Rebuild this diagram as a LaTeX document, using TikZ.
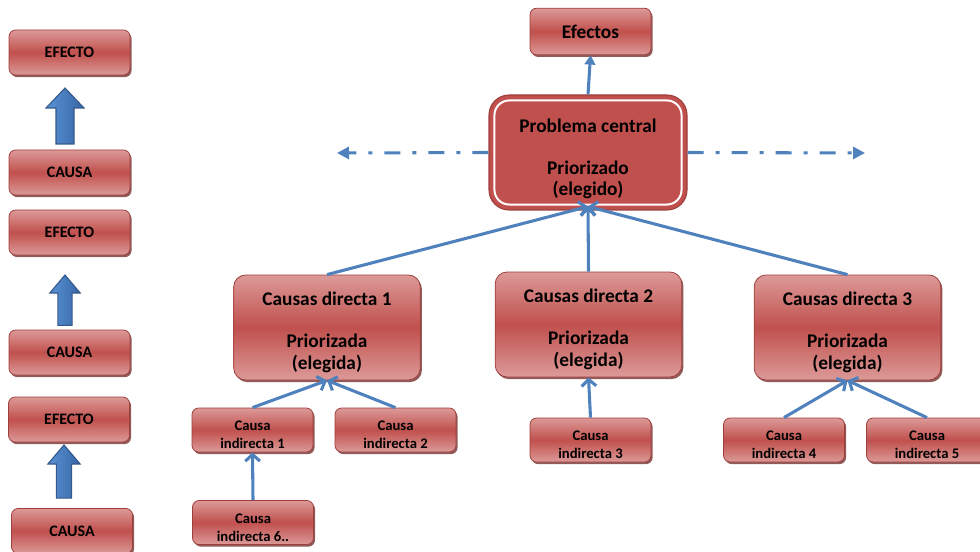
\documentclass[tikz,border=0pt]{standalone}
\usepackage{fontspec}
\setmainfont{Carlito}
\usetikzlibrary{arrows.meta,shadows}
\definecolor{boxred}{HTML}{C0504D}
\definecolor{boxlight}{HTML}{DC9A98}
\definecolor{boxborder}{HTML}{9E3F3C}
\definecolor{boxshadow}{HTML}{6A2624}
\definecolor{lineblue}{HTML}{4F81BD}
\definecolor{bigbluel}{HTML}{5A92D4}
\definecolor{bigbluer}{HTML}{3566A6}
\definecolor{bigblueedge}{HTML}{35588A}
\newcommand\bigtop{\rule{0pt}{17.5pt}}
\newcommand\smalltop{\rule{0pt}{15pt}}
\begin{document}
\begin{tikzpicture}[x=0.75pt,y=-0.75pt,
  redbox/.style={draw=boxborder, line width=0.6pt, rounded corners=5pt,
    top color=boxlight, bottom color=boxlight, middle color=boxred,
    drop shadow={shadow xshift=1.2pt, shadow yshift=-1.6pt, fill=boxshadow, opacity=0.75},
    font=\bfseries, align=center, inner sep=0pt, text=black},
  leftbox/.style={redbox, minimum width=90.75pt, minimum height=33.75pt, font=\bfseries\fontsize{12}{14}\selectfont},
  smallbox/.style={redbox, minimum width=90.75pt, minimum height=33pt, font=\bfseries\fontsize{11}{13.5}\selectfont},
  bigbox/.style={redbox, rounded corners=9pt, minimum width=140pt, minimum height=78.75pt, font=\bfseries\fontsize{14.5}{16}\selectfont},
  link/.style={draw=lineblue, line width=2.3pt, -{Straight Barb[length=5pt,width=11pt]}},
  toplink/.style={draw=lineblue, line width=2.3pt, -{Triangle[length=7pt,width=8pt]}},
  dashlink/.style={draw=lineblue, line width=2.3pt, dash pattern=on 12pt off 9pt on 3pt off 9pt, -{Triangle[length=9pt,width=9pt]}},
  bigarrow/.style={left color=bigbluel, right color=bigbluer, draw=bigblueedge, line width=0.8pt},
  uparr/.pic={\draw[bigarrow] (0,0) -- (19,20) -- (9,20) -- (9,56) -- (-9,56) -- (-9,20) -- (-19,20) -- cycle;}
]
\useasboundingbox (0,0) rectangle (980,552);

% left column
\node[leftbox] (ef1) at (69.5,52.5) {EFECTO};
\node[leftbox] (ca1) at (69.5,172.5) {CAUSA};
\node[leftbox] (ef2) at (69.5,232.5) {EFECTO};
\node[leftbox] (ca2) at (69.5,352.5) {CAUSA};
\node[leftbox] (ef3) at (69,419.5) {EFECTO};
\node[leftbox] (ca3) at (72,531) {CAUSA};

\pic at (65,88) {uparr};
\pic[yscale=0.9, xscale=0.8] at (65,275) {uparr};
\pic[yscale=0.95, xscale=0.85] at (64,445) {uparr};

% main tree
\node[redbox, minimum width=90.75pt, minimum height=35pt, font=\bfseries\fontsize{14.5}{16}\selectfont] (efx) at (590.5,31.5) {Efectos};

\node[draw=boxborder, line width=0.8pt, fill=boxred, rounded corners=15pt,
  minimum width=148.5pt, minimum height=86.25pt, inner sep=0pt] (pc) at (588,152.5) {};
\draw[white, line width=1.5pt, rounded corners=11pt]
  ([shift={(4.5pt,-4.5pt)}]pc.north west) rectangle ([shift={(-4.5pt,4.5pt)}]pc.south east);
\node[align=center, font=\bfseries\fontsize{14.5}{16}\selectfont, inner sep=0pt] (pctext) at (588,159) {Problema central\\[15.5pt]Priorizado\\(elegido)};

\node[bigbox] (cd1) at (327,327.5) {\bigtop Causas directa 1\\[15.5pt]Priorizada\\(elegida)};
\node[bigbox] (cd2) at (588.5,324.5) {\bigtop Causas directa 2\\[15.5pt]Priorizada\\(elegida)};
\node[bigbox] (cd3) at (847.5,327.5) {\bigtop Causas directa 3\\[15.5pt]Priorizada\\(elegida)};

\node[smallbox] (ci1) at (252.5,430) {\smalltop Causa\\indirecta 1};
\node[smallbox] (ci2) at (395.5,430) {\smalltop Causa\\indirecta 2};
\node[smallbox] (ci6) at (253,522.5) {\smalltop Causa\\indirecta 6..};
\node[smallbox] (ci3) at (590.5,440) {\smalltop Causa\\indirecta 3};
\node[smallbox] (ci4) at (784,440) {\smalltop Causa\\indirecta 4};
\node[smallbox] (ci5) at (927,440) {\smalltop Causa\\indirecta 5};

\coordinate (pcin) at ([yshift=3pt]pc.south);
\coordinate (dl) at (337,153);
\coordinate (dr) at (865,153);

\draw[toplink] (pc.north) -- (efx.south);
\draw[dashlink] (pc.west) -- (dl);
\draw[dashlink] (pc.east) -- (dr);
\draw[link] (cd1.north) -- (pcin);
\draw[link] (cd2.north) -- (pcin);
\draw[link] (cd3.north) -- (pcin);
\draw[link] (ci1.north) -- (cd1.south);
\draw[link] (ci2.north) -- (cd1.south);
\draw[link] (ci6.north) -- (ci1.south);
\draw[link] (ci3.north) -- (cd2.south);
\draw[link] (ci4.north) -- (cd3.south);
\draw[link] (ci5.north) -- (cd3.south);
\end{tikzpicture}
\end{document}
